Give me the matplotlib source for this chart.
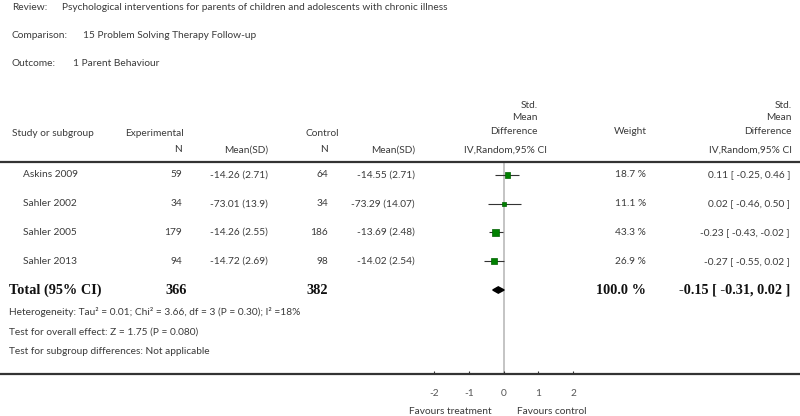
import matplotlib
matplotlib.use("Agg")
import matplotlib.pyplot as plt
import matplotlib.transforms as mtransforms
import numpy as np

# ---------------- data ----------------
studies = ["Askins 2009", "Sahler 2002", "Sahler 2005", "Sahler 2013"]
exp_n = [59, 34, 179, 94]
exp_msd = ["-14.26 (2.71)", "-73.01 (13.9)", "-14.26 (2.55)", "-14.72 (2.69)"]
ctl_n = [64, 34, 186, 98]
ctl_msd = ["-14.55 (2.71)", "-73.29 (14.07)", "-13.69 (2.48)", "-14.02 (2.54)"]
smd = [0.11, 0.02, -0.23, -0.27]
ci_lo = [-0.25, -0.46, -0.43, -0.55]
ci_hi = [0.46, 0.50, -0.02, 0.02]
weights = [18.7, 11.1, 43.3, 26.9]

total_exp_n = 366
total_ctl_n = 382
total_smd = -0.15
total_lo = -0.31
total_hi = 0.02
total_weight = 100.0

xticks = [-2, -1, 0, 1, 2]
xtick_labels = ["-2", "-1", "0", "1", "2"]

review = "Psychological interventions for parents of children and adolescents with chronic illness"
comparison = "15 Problem Solving Therapy Follow-up"
outcome = "1 Parent Behaviour"
heterogeneity = "Heterogeneity: Tau² = 0.01; Chi² = 3.66, df = 3 (P = 0.30); I² =18%"
overall = "Test for overall effect: Z = 1.75 (P = 0.080)"
subgroup = "Test for subgroup differences: Not applicable"
left_label = "Favours treatment"
right_label = "Favours control"

# ---------------- layout ----------------
W, H = 800, 416
SANS = ["Lato", "DejaVu Sans"]
SERIF = ["Liberation Serif", "DejaVu Serif"]
TXT = "#3a3a3a"
FS = 7.3
BFS = 10.3

fig = plt.figure(figsize=(W / 100, H / 100), dpi=100)
ax = fig.add_axes([0, 0, 1, 1])
ax.set_facecolor("white")

scale = 34.75
x0 = 503.5
ax.set_xlim(-x0 / scale, (W - x0) / scale)
row0, dy = 175.0, 28.75
ax.set_ylim((H - row0) / dy, -row0 / dy)

def fx(px):
    return px / W

def fy(py):
    return 1 - py / H

blend = mtransforms.blended_transform_factory(ax.transAxes, ax.transData)

def t(px, py, s, ha="left", **kw):
    kw.setdefault("fontsize", FS)
    kw.setdefault("color", TXT)
    kw.setdefault("family", SANS)
    ax.text(fx(px), fy(py), s, ha=ha, va="center", transform=ax.transAxes, **kw)

def tr(px, row, s, ha="left", **kw):
    kw.setdefault("fontsize", FS)
    kw.setdefault("color", TXT)
    kw.setdefault("family", SANS)
    ax.text(fx(px), row, s, ha=ha, va="center", transform=blend, **kw)

# titles
t(12, 8, "Review:")
t(62, 8, review)
t(12, 36, "Comparison:")
t(83, 36, comparison)
t(12, 63, "Outcome:")
t(73, 63, outcome)

# header
t(12, 133, "Study or subgroup")
t(125, 133, "Experimental")
t(306, 133, "Control")
t(182, 150, "N", ha="right")
t(268, 150, "Mean(SD)", ha="right")
t(328, 150, "N", ha="right")
t(415, 150, "Mean(SD)", ha="right")
for py, s in [(105, "Std."), (118, "Mean"), (132, "Difference")]:
    t(538, py, s, ha="right")
    t(792, py, s, ha="right")
t(506, 150, "IV,Random,95% CI", ha="center")
t(792, 150, "IV,Random,95% CI", ha="right")
t(630, 132, "Weight", ha="center")

# header rule
ax.plot([0, 1], [fy(161.5), fy(161.5)], transform=ax.transAxes, color="#333333", lw=1.6,
        solid_capstyle="butt")

# zero line
ax.axvline(0, ymin=fy(374), ymax=fy(163), color="#c4c4c4", lw=1.4, zorder=1)

# study rows
rows = np.arange(len(studies))
for i, r in enumerate(rows):
    tr(23, r, studies[i])
    tr(182, r, str(exp_n[i]), ha="right")
    tr(268, r, exp_msd[i], ha="right")
    tr(328, r, str(ctl_n[i]), ha="right")
    tr(415, r, ctl_msd[i], ha="right")
    tr(646, r, f"{weights[i]:.1f} %", ha="right")
    tr(790, r, f"{smd[i]:.2f} [ {ci_lo[i]:.2f}, {ci_hi[i]:.2f} ]", ha="right")

ax.hlines(rows, ci_lo, ci_hi, color="#333333", lw=0.8, zorder=3)
side_pt = 1.2 * np.sqrt(np.array(weights)) * 0.72
ax.scatter(smd, rows, s=side_pt ** 2, marker="s", color="#008000",
           edgecolor="#006000", linewidths=0.5, zorder=4)

# total row
tr_row = len(studies)
bold = dict(family=SERIF, fontweight="bold", fontsize=BFS, color="#111111")
tr(9, tr_row, "Total (95% CI)", **bold)
tr(187, tr_row, str(total_exp_n), ha="right", **bold)
tr(328, tr_row, str(total_ctl_n), ha="right", **bold)
tr(646, tr_row, f"{total_weight:.1f} %", ha="right", **bold)
tr(790, tr_row, f"{total_smd:.2f} [ {total_lo:.2f}, {total_hi:.2f} ]", ha="right", **bold)
h = 0.11
ax.fill([total_lo, total_smd, total_hi, total_smd],
        [tr_row, tr_row - h, tr_row, tr_row + h], color="black", zorder=4)

# footer text
t(9, 312, heterogeneity)
t(9, 332, overall)
t(9, 351, subgroup)

# bottom axis
for side in ["top", "left", "right"]:
    ax.spines[side].set_visible(False)
ax.spines["bottom"].set_position(("axes", fy(374)))
ax.spines["bottom"].set_color("#333333")
ax.spines["bottom"].set_linewidth(1.6)
ax.set_yticks([])
ax.set_xticks(xticks)
ax.set_xticklabels(xtick_labels, family=SANS, fontsize=FS, color="#555555")
ax.tick_params(axis="x", direction="in", length=2.5, width=0.8, color="#333333", pad=11)

ax.text(450 / W, fy(412), left_label, ha="center", va="center", transform=ax.transAxes,
        fontsize=FS, color=TXT, family=SANS)
ax.text(552 / W, fy(412), right_label, ha="center", va="center", transform=ax.transAxes,
        fontsize=FS, color=TXT, family=SANS)

fig.savefig("out.png", dpi=100, facecolor="white")
